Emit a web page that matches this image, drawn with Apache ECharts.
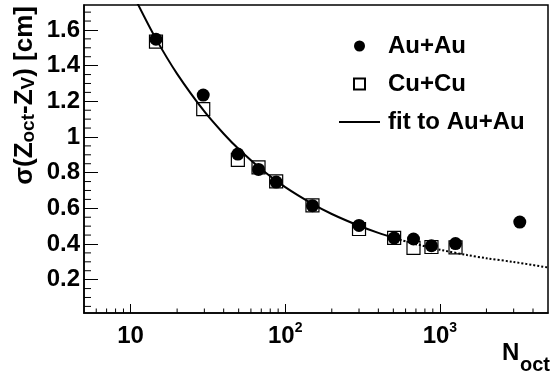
<!DOCTYPE html>
<html>
<head>
<meta charset="utf-8">
<script src="https://cdn.jsdelivr.net/npm/echarts@6/dist/echarts.min.js"></script>
<style>
  html, body { margin: 0; padding: 0; background: #fff; }
  #chart { width: 551px; height: 382px; }
</style>
</head>
<body>
<div id="chart"></div>
<script>
// N_oct bins, shared by both systems
const nOctAu = [14.6, 29.5, 49.4, 67.2, 87.4, 150, 300, 506, 675, 882, 1262, 3285];
const sigmaAu = [1.548, 1.235, 0.904, 0.818, 0.747, 0.615, 0.504, 0.434, 0.428, 0.390, 0.402, 0.523];
const nOctCu = [14.6, 29.5, 49.4, 67.2, 87.4, 150, 300, 506, 675, 882, 1262];
const sigmaCu = [1.535, 1.156, 0.872, 0.829, 0.751, 0.616, 0.484, 0.434, 0.378, 0.383, 0.381];

// fit curve: solid over fitted range, dotted after
const fitN = [11, 14.6, 20, 30, 40, 50, 70, 100, 150, 200, 300, 400, 550];
const fitSigma = [1.755, 1.55, 1.354, 1.143, 1.018, 0.932, 0.819, 0.719, 0.625, 0.568, 0.502, 0.462, 0.424];
const extN = [550, 700, 1000, 1500, 2000, 3000, 5000];
const extSigma = [0.424, 0.399, 0.368, 0.338, 0.32, 0.299, 0.268];

// axis ticks / labels
const xMinorTicks = [6, 7, 8, 9, 20, 30, 40, 50, 60, 70, 80, 90, 200, 300, 400, 500, 600, 700, 800, 900, 2000, 3000, 4000];
const yMinorTicks = [0.05, 0.1, 0.15, 0.25, 0.3, 0.35, 0.45, 0.5, 0.55, 0.65, 0.7, 0.75, 0.85, 0.9, 0.95,
  1.05, 1.1, 1.15, 1.25, 1.3, 1.35, 1.45, 1.5, 1.55, 1.65, 1.7];
const xDecades = [10, 100, 1000];
const xDecadeLabels = ['10', '10{sup|2}', '10{sup|3}'];
const yTickLabels = ['0.2', '0.4', '0.6', '0.8', '1', '1.2', '1.4', '1.6'];

const X_MIN = 5, X_MAX = 5000, Y_MIN = 0.013, Y_MAX = 1.74;
const FONT = '"Liberation Sans", Arial, sans-serif';

const zip = (a, b) => a.map((v, i) => [v, b[i]]);

function tickRender(dir, len) {
  return function (params, api) {
    const p = api.coord([api.value(0), api.value(1)]);
    const x2 = dir === 'x' ? p[0] : p[0] + len;
    const y2 = dir === 'x' ? p[1] - len : p[1];
    return {
      type: 'line',
      shape: { x1: p[0], y1: p[1], x2: x2, y2: y2 },
      style: { stroke: '#000', lineWidth: 1 }
    };
  };
}

const chart = echarts.init(document.getElementById('chart'), null, { renderer: 'canvas' });

chart.setOption({
  backgroundColor: '#fff',
  animation: false,
  textStyle: { fontFamily: FONT },
  grid: { left: 84, right: 3, top: 5, bottom: 69, show: true, borderColor: '#000', borderWidth: 1.5, backgroundColor: 'transparent' },
  legend: {
    data: [
      { name: 'Au+Au', icon: 'circle' },
      { name: 'Cu+Cu', icon: 'path://M0,0H10V10H0Z' },
      { name: 'fit to Au+Au', icon: 'path://M0,0H40V2H0Z' }
    ],
    orient: 'vertical',
    left: 334, top: 29,
    itemWidth: 41, itemHeight: 11, itemGap: 14,
    symbolKeepAspect: true,
    selectedMode: false,
    textStyle: { fontFamily: FONT, fontSize: 24, fontWeight: 'bold', color: '#000', padding: [0, 0, 0, 3] }
  },
  xAxis: {
    type: 'log', logBase: 10, min: X_MIN, max: X_MAX,
    axisLine: { lineStyle: { color: '#000', width: 1.5 } },
    axisTick: { inside: true, length: 9, lineStyle: { color: '#000', width: 1 } },
    splitLine: { show: false },
    axisLabel: {
      margin: 8, color: '#000', fontFamily: FONT, fontSize: 24, fontWeight: 'bold', lineHeight: 30,
      showMinLabel: false, showMaxLabel: false,
      formatter: v => {
        const i = xDecades.findIndex(d => Math.abs(d - v) / d < 1e-6);
        return i >= 0 ? xDecadeLabels[i] : '';
      },
      rich: { sup: { fontSize: 14, fontWeight: 'bold', lineHeight: 14, verticalAlign: 'top', fontFamily: FONT, color: '#000' } }
    }
  },
  yAxis: {
    type: 'value', min: Y_MIN, max: Y_MAX, splitNumber: 8,
    axisLine: { lineStyle: { color: '#000', width: 1.5 } },
    axisTick: { inside: true, length: 14, lineStyle: { color: '#000', width: 1 } },
    splitLine: { show: false },
    axisLabel: {
      margin: 4, color: '#000', fontFamily: FONT, fontSize: 24, fontWeight: 'bold',
      showMinLabel: false, showMaxLabel: false,
      formatter: v => {
        const i = Math.round(v / 0.2) - 1;
        return Math.abs(v - (i + 1) * 0.2) < 1e-6 && yTickLabels[i] ? yTickLabels[i] : '';
      }
    }
  },
  graphic: [
    {
      type: 'text', x: 38, y: 6, rotation: Math.PI / 2,
      style: {
        text: '{m|σ(Z}{s|oct}{m|-Z}{s|V}{m|) [cm]}',
        align: 'right', verticalAlign: 'bottom',
        rich: {
          m: { fontFamily: FONT, fontSize: 26, fontWeight: 'bold', fill: '#000', lineHeight: 26 },
          s: { fontFamily: FONT, fontSize: 19, fontWeight: 'bold', fill: '#000', lineHeight: 19, verticalAlign: 'bottom', padding: [12, 0, 0, 0] }
        }
      }
    },
    {
      type: 'text', x: 502, y: 341,
      style: { text: 'N', align: 'left', verticalAlign: 'top', font: 'bold 24px ' + FONT, fill: '#000' }
    },
    {
      type: 'text', x: 520, y: 355,
      style: { text: 'oct', align: 'left', verticalAlign: 'top', font: 'bold 20px ' + FONT, fill: '#000' }
    }
  ],
  series: [
    {
      name: 'xticks', type: 'custom', silent: true, clip: false, z: 5,
      renderItem: tickRender('x', 4.5),
      data: xMinorTicks.map(v => [v, Y_MIN])
    },
    {
      name: 'yticks', type: 'custom', silent: true, clip: false, z: 5,
      renderItem: tickRender('y', 7),
      data: yMinorTicks.map(v => [X_MIN, v])
    },
    {
      name: 'Cu+Cu', type: 'scatter', z: 2,
      symbol: 'rect', symbolSize: 13,
      itemStyle: { color: '#fff', borderColor: '#000', borderWidth: 1.2, opacity: 1 },
      data: zip(nOctCu, sigmaCu)
    },
    {
      name: 'fit to Au+Au', type: 'line', z: 3, clip: true,
      symbol: 'none', smooth: 0.3,
      lineStyle: { color: '#000', width: 2 },
      itemStyle: { color: '#000' },
      data: zip(fitN, fitSigma)
    },
    {
      name: 'fit ext', type: 'line', z: 3, clip: true,
      symbol: 'none', smooth: 0.3,
      lineStyle: { color: '#000', width: 2, type: [2, 2] },
      data: zip(extN, extSigma)
    },
    {
      name: 'Au+Au', type: 'scatter', z: 4,
      symbol: 'circle', symbolSize: 13,
      itemStyle: { color: '#000', opacity: 1 },
      data: zip(nOctAu, sigmaAu)
    }
  ]
});
</script>
</body>
</html>
